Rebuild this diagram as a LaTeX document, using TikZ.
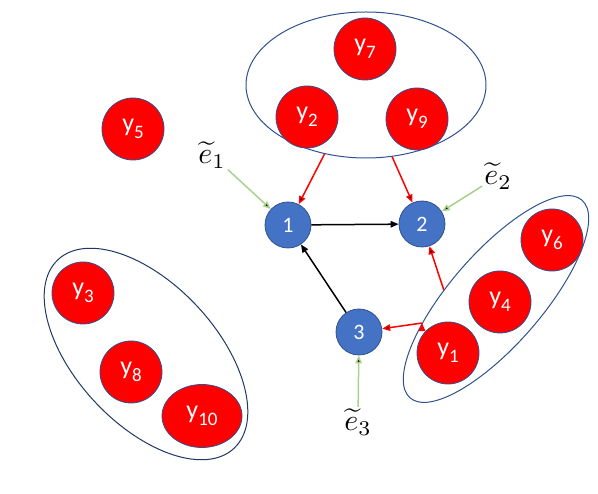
\documentclass[tikz,border=0pt]{standalone}
\usepackage{fontspec}
\setmainfont{Carlito}
\usetikzlibrary{shapes.geometric,arrows.meta}

\definecolor{obsred}{HTML}{FF0000}
\definecolor{latblue}{HTML}{4472C4}
\definecolor{edgeblue}{HTML}{2F528F}
\definecolor{grpnavy}{HTML}{1F3864}
\definecolor{noisegreen}{HTML}{A9D18E}

% y with a lowered index, as in the figure
\newcommand{\yv}[1]{y\raisebox{-7pt}{\fontsize{19}{19}\selectfont #1}}

\begin{document}
\begin{tikzpicture}[
  x=1pt, y=-1pt,
  >={Triangle[length=8pt,width=6.5pt]},
  obs/.style={circle,fill=obsred,draw=edgeblue,line width=0.8pt,
    minimum size=62pt,inner sep=0pt,text=white,
    font=\fontsize{26}{26}\selectfont},
  lat/.style={circle,fill=latblue,draw=edgeblue,line width=0.8pt,
    minimum size=46pt,inner sep=0pt,text=white,
    font=\fontsize{22}{22}\selectfont},
  group/.style={ellipse,draw=edgeblue,line width=1pt,inner sep=0pt},
  noise/.style={inner sep=0.5pt,scale=3},
  cause/.style={->,draw=obsred,line width=1.5pt},
  link/.style={->,draw=black,line width=1.5pt},
  shock/.style={->,draw=noisegreen,line width=1.5pt}
]
  \useasboundingbox (0,0) rectangle (598,494);

  % groups of observed variables
  \node[group,minimum width=240pt,minimum height=146pt] (gtop) at (366,85) {};
  \node[group,minimum width=262pt,minimum height=92pt,rotate=49] (gright) at (496,299) {};
  \node[group,draw=grpnavy,minimum width=258pt,minimum height=140pt,rotate=-47] (gleft) at (146,354) {};

  \node[obs] (y7) at (365,49) {\yv{7}};
  \node[obs] (y2) at (307,117) {\yv{2}};
  \node[obs] (y9) at (417,119) {\yv{9}};
  \node[obs] (y5) at (133,129) {\yv{5}};
  \node[obs] (y6) at (552,240) {\yv{6}};
  \node[obs] (y4) at (500,302) {\yv{4}};
  \node[obs] (y1) at (448,353) {\yv{1}};
  \node[obs] (y3) at (83,293) {\yv{3}};
  \node[obs] (y8) at (131,372) {\yv{8}};
  \node[obs,ellipse,minimum width=80pt,minimum height=63pt] (y10) at (202,416) {\yv{10}};

  % latent nodes
  \node[lat] (n1) at (288,225) {1};
  \node[lat] (n2) at (422,224) {2};
  \node[lat] (n3) at (359,332) {3};

  \node[noise] (e1) at (212,155) {$\widetilde{e}_1$};
  \node[noise] (e2) at (498,176) {$\widetilde{e}_2$};
  \node[noise] (e3) at (358,422) {$\widetilde{e}_3$};

  \path[cause]
    (gtop.239) edge (n1)
    (gtop.290) edge (n2)
    (gright.121) edge (n2)
    (gright.149) edge (n3);
  \path[link]
    (n1) edge (n2)
    (n3) edge (n1);
  \path[shock]
    (e1) edge (n1)
    (e2) edge (n2)
    (e3) edge (n3);
\end{tikzpicture}
\end{document}
